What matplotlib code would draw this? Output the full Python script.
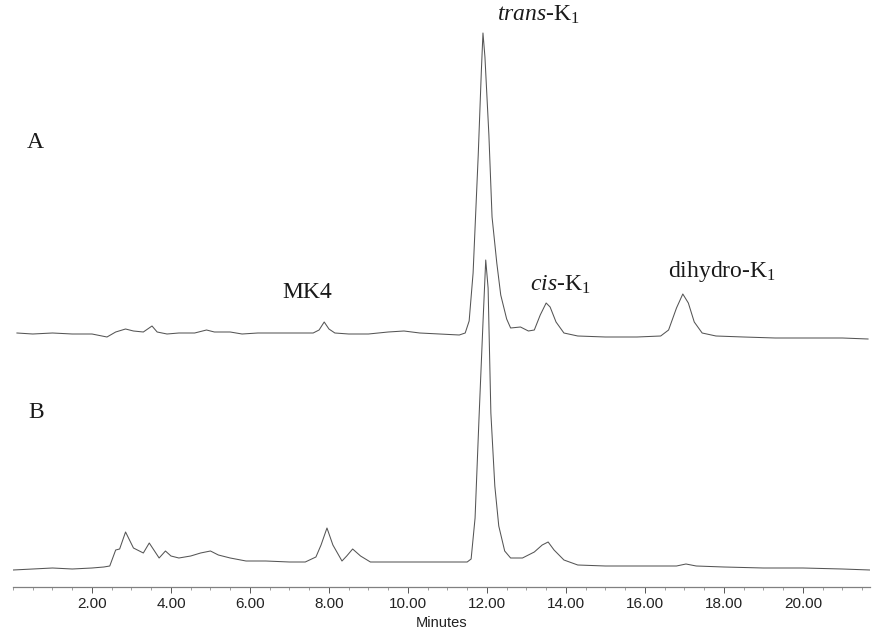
import matplotlib
matplotlib.use("Agg")
import matplotlib.pyplot as plt
from matplotlib.ticker import MultipleLocator, FuncFormatter

# ---- data (retention time in minutes, detector signal in arbitrary units) ----
trace_a_time = [0.1, 0.5, 1.0, 1.5, 2.0, 2.38, 2.6, 2.85, 3.05, 3.3, 3.52, 3.65, 3.9,
                4.2, 4.6, 4.9, 5.1, 5.5, 5.8, 6.2, 6.7, 7.2, 7.6, 7.75, 7.88, 8.0,
                8.15, 8.5, 9.0, 9.5, 9.9, 10.3, 10.8, 11.3, 11.45, 11.55, 11.65,
                11.78, 11.86, 11.9, 11.95, 12.05, 12.13, 12.25, 12.35, 12.5, 12.6,
                12.85, 13.05, 13.2, 13.35, 13.5, 13.6, 13.75, 13.95, 14.3, 15.0,
                15.8, 16.4, 16.6, 16.8, 16.96, 17.1, 17.25, 17.45, 17.8, 18.5,
                19.3, 20.2, 21.0, 21.65]
trace_a_signal = [2, 1, 2, 1, 1, -2, 3, 6, 4, 3, 9, 3, 1,
                  2, 2, 5, 3, 3, 1, 2, 2, 2, 2, 5, 13, 6,
                  2, 1, 1, 3, 4, 2, 1, 0, 2, 14, 62,
                  180, 265, 302, 278, 200, 118, 72, 40, 16, 7,
                  8, 4, 5, 20, 32, 28, 13, 2, -1, -2,
                  -2, -1, 5, 27, 41, 32, 13, 2, -1, -2,
                  -3, -3, -3, -4]

trace_b_time = [0.0, 0.5, 1.0, 1.5, 2.0, 2.3, 2.45, 2.6, 2.7, 2.85, 2.95, 3.05, 3.3,
                3.45, 3.7, 3.86, 4.0, 4.2, 4.5, 4.75, 5.0, 5.2, 5.5, 5.9, 6.4, 7.0,
                7.4, 7.67, 7.8, 7.95, 8.1, 8.33, 8.45, 8.6, 8.8, 9.05, 10.0, 11.0,
                11.5, 11.6, 11.7, 11.8, 11.9, 11.97, 12.03, 12.1, 12.2, 12.3, 12.45,
                12.6, 12.9, 13.2, 13.4, 13.55, 13.7, 13.95, 14.3, 15.0, 16.0, 16.8,
                17.04, 17.3, 18.0, 19.0, 20.0, 21.0, 21.7]
trace_b_signal = [-2, -1, 0, -1, 0, 1, 2, 18, 19, 36, 28, 20, 15,
                  25, 10, 17, 12, 10, 12, 15, 17, 13, 10, 7, 7, 6,
                  6, 11, 23, 40, 23, 7, 12, 19, 12, 6, 6, 6,
                  6, 9, 50, 150, 245, 308, 280, 155, 82, 42, 17,
                  10, 10, 16, 23, 26, 18, 8, 3, 2, 2, 2,
                  4, 2, 1, 0, 0, -1, -2]

trace_a_offset = 233

major_ticks = [2, 4, 6, 8, 10, 12, 14, 16, 18, 20]

peak_labels = ["MK4", r"$\mathit{trans}$-K$_1$", r"$\mathit{cis}$-K$_1$", r"dihydro-K$_1$"]
peak_label_pos = [(6.81, 275), (12.25, 553), (13.09, 283), (16.58, 296)]
trace_labels = ["A", "B"]
trace_label_pos = [(0.35, 425), (0.38, 156)]

# ---- style ----
plt.rcParams["mathtext.fontset"] = "custom"
plt.rcParams["mathtext.rm"] = "Liberation Serif"
plt.rcParams["mathtext.it"] = "Liberation Serif:italic"

fig = plt.figure(figsize=(8.72, 6.31), dpi=100)
ax = fig.add_axes([13 / 872, 44 / 631, 857 / 872, 587 / 631])

line_color = "#555555"
ax.plot(trace_a_time, [v + trace_a_offset for v in trace_a_signal],
        color=line_color, lw=0.75)
ax.plot(trace_b_time, trace_b_signal, color=line_color, lw=0.75)

ax.set_xlim(0, 21.7)
ax.set_ylim(-19, 568)

for s in ["top", "left", "right"]:
    ax.spines[s].set_visible(False)
ax.spines["bottom"].set_color("#808080")
ax.spines["bottom"].set_linewidth(0.9)
ax.set_yticks([])

ax.set_xticks(major_ticks)
ax.xaxis.set_minor_locator(MultipleLocator(0.5))
ax.xaxis.set_major_formatter(FuncFormatter(lambda v, p: f"{v:.2f}"))
ax.tick_params(axis="x", which="major", length=4.5, width=0.7, color="#555555",
               direction="out", pad=3, labelsize=11, labelcolor="#222222")
ax.tick_params(axis="x", which="minor", length=2, width=0.5, color="#777777",
               direction="out")
for lbl in ax.get_xticklabels():
    lbl.set_fontfamily("Liberation Sans")
ax.set_xlabel("Minutes", fontsize=10.5, fontfamily="Liberation Sans",
              color="#222222", labelpad=3)

for text, (x, y) in zip(peak_labels, peak_label_pos):
    ax.text(x, y, text, fontsize=17, fontfamily="Liberation Serif",
            ha="left", va="center", color="#1a1a1a")
for text, (x, y) in zip(trace_labels, trace_label_pos):
    ax.text(x, y, text, fontsize=17, fontfamily="Liberation Serif",
            ha="left", va="center", color="#1a1a1a")

fig.savefig("out.png", dpi=100)
